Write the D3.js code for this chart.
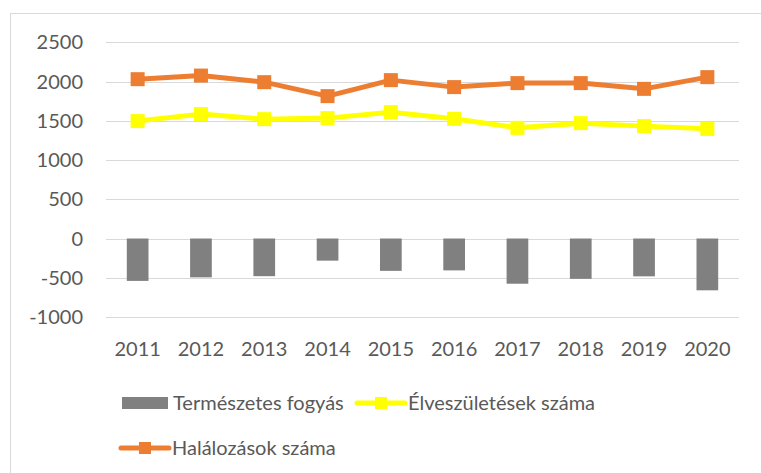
<!DOCTYPE html>
<html>
<head>
<meta charset="utf-8">
<script src="https://cdn.jsdelivr.net/npm/d3@7"></script>
<style>
  body { margin: 0; background: #fff; }
  svg text { font-family: Lato, "Open Sans", sans-serif; fill: #595959; }
</style>
</head>
<body>
<svg id="chart" width="761" height="473"></svg>
<script>
const years = ['2011', '2012', '2013', '2014', '2015', '2016', '2017', '2018', '2019', '2020'];
const fogyas = [-540, -495, -480, -282, -412, -406, -576, -514, -482, -660];
const eleveszuletes = [1496, 1585, 1521, 1534, 1610, 1525, 1410, 1470, 1432, 1397];
const halalozas = [2030, 2076, 1992, 1814, 2018, 1929, 1980, 1980, 1907, 2056];
const yTicks = [-1000, -500, 0, 500, 1000, 1500, 2000, 2500];

const svg = d3.select('svg#chart');
const W = 761, H = 473;
const fs = '20px';

// outer chart border (runs off right and bottom edge)
svg.append('rect')
  .attr('x', 10.5).attr('y', 13.5)
  .attr('width', W).attr('height', H)
  .attr('fill', 'none')
  .attr('stroke', '#d9d9d9');

const x = d3.scaleBand().domain(years).range([106, 739]);
const y = d3.scaleLinear().domain([-1000, 2500]).range([317, 42.3]);

// gridlines
svg.append('g')
  .selectAll('line')
  .data(yTicks)
  .enter().append('line')
  .attr('x1', 106).attr('x2', 739)
  .attr('y1', d => Math.round(y(d)) + 0.5)
  .attr('y2', d => Math.round(y(d)) + 0.5)
  .attr('stroke', '#d9d9d9')
  .attr('stroke-width', 1);

// y labels
svg.append('g')
  .selectAll('text')
  .data(yTicks)
  .enter().append('text')
  .attr('x', 83)
  .attr('y', d => y(d))
  .attr('dy', '0.35em')
  .attr('text-anchor', 'end')
  .style('font-size', fs)
  .text(d => d);

// x labels
svg.append('g')
  .selectAll('text')
  .data(years)
  .enter().append('text')
  .attr('x', d => x(d) + x.bandwidth() / 2)
  .attr('y', 356)
  .attr('text-anchor', 'middle')
  .style('font-size', fs)
  .text(d => d);

// bars
const bw = 21.7;
svg.append('g')
  .selectAll('rect')
  .data(years)
  .enter().append('rect')
  .attr('x', d => x(d) + x.bandwidth() / 2 - bw / 2)
  .attr('y', y(0))
  .attr('width', bw)
  .attr('height', (d, i) => y(fogyas[i]) - y(0))
  .attr('fill', '#808080');

const line = d3.line()
  .x((d, i) => x(years[i]) + x.bandwidth() / 2)
  .y(d => y(d));

function drawSeries(values, color) {
  svg.append('path')
    .datum(values)
    .attr('d', line)
    .attr('fill', 'none')
    .attr('stroke', color)
    .attr('stroke-width', 5)
    .attr('stroke-linejoin', 'round');
  svg.append('g')
    .selectAll('rect')
    .data(values)
    .enter().append('rect')
    .attr('x', (d, i) => x(years[i]) + x.bandwidth() / 2 - 7)
    .attr('y', d => y(d) - 7)
    .attr('width', 14)
    .attr('height', 14)
    .attr('fill', color);
}

drawSeries(eleveszuletes, '#ffff00');
drawSeries(halalozas, '#ed7d31');

// legend
const leg = svg.append('g');
leg.append('rect')
  .attr('x', 122).attr('y', 397)
  .attr('width', 46).attr('height', 12)
  .attr('fill', '#808080');
leg.append('text')
  .attr('x', 173).attr('y', 403).attr('dy', '0.35em')
  .style('font-size', fs)
  .text('Természetes fogyás');

function legendLine(x0, cy, color, label) {
  leg.append('line')
    .attr('x1', x0).attr('x2', x0 + 48)
    .attr('y1', cy).attr('y2', cy)
    .attr('stroke', color)
    .attr('stroke-width', 5)
    .attr('stroke-linecap', 'round');
  leg.append('rect')
    .attr('x', x0 + 24 - 6).attr('y', cy - 6)
    .attr('width', 12).attr('height', 12)
    .attr('fill', color);
  leg.append('text')
    .attr('x', x0 + 51).attr('y', cy).attr('dy', '0.35em')
    .style('font-size', fs)
    .text(label);
}

legendLine(357, 403, '#ffff00', 'Élveszületések száma');
legendLine(121, 448, '#ed7d31', 'Halálozások száma');
</script>
</body>
</html>
